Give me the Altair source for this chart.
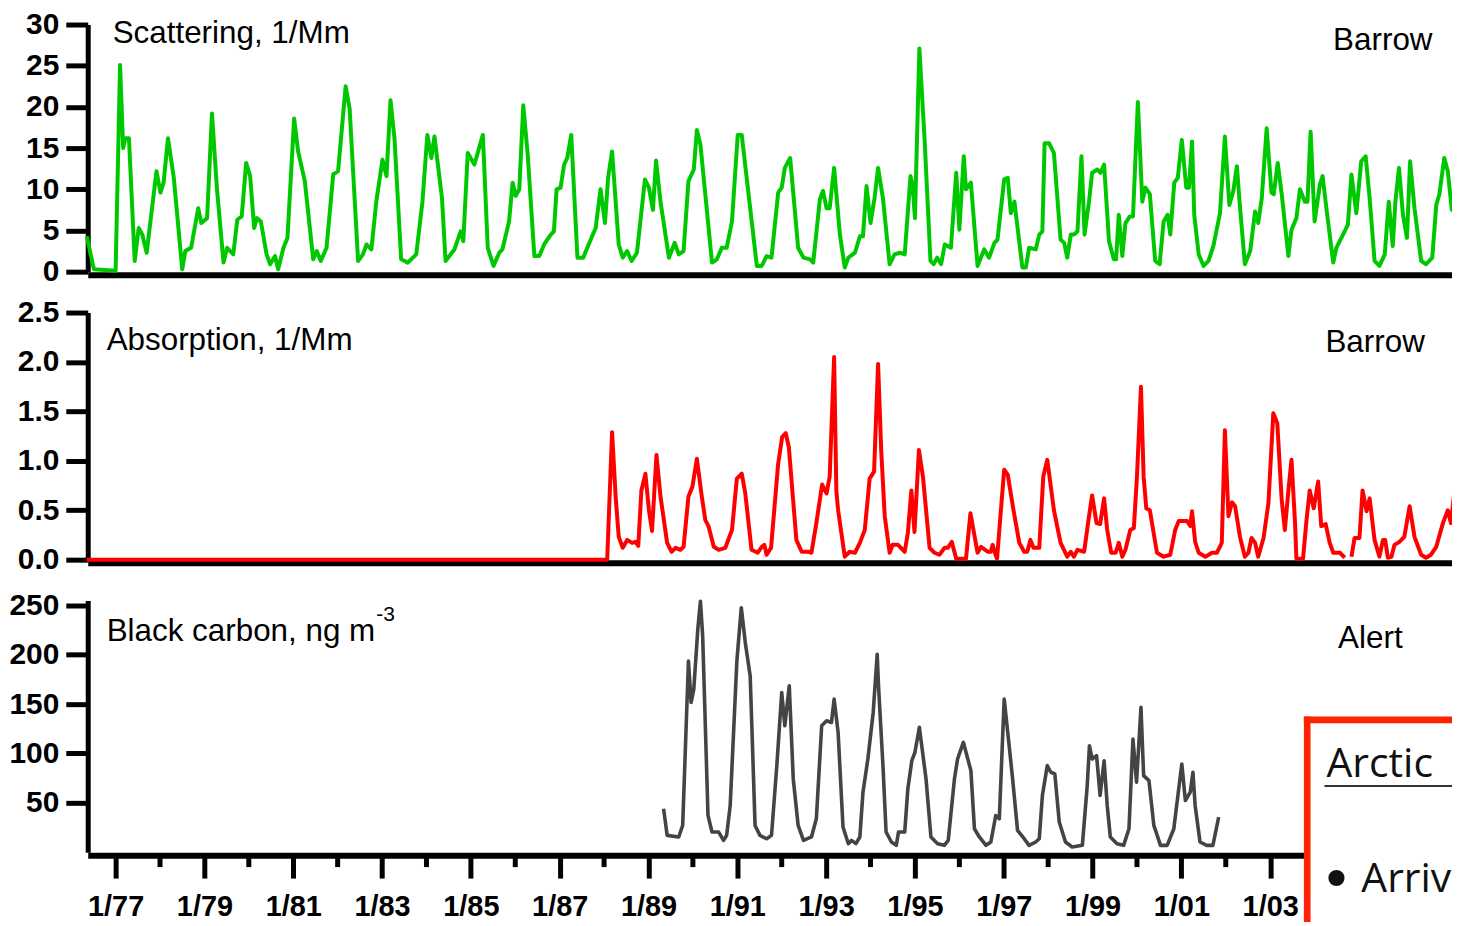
import altair as alt
import pandas as pd

# ---------------- data ----------------
scat_year = [
    1976.35, 1976.51,
    1977.00, 1977.10, 1977.17, 1977.22, 1977.30, 1977.43, 1977.52, 1977.60, 1977.70, 1977.92,
    1978.01, 1978.08, 1978.18, 1978.31, 1978.50, 1978.57, 1978.70, 1978.86, 1978.93,
    1979.06, 1979.17, 1979.28, 1979.43, 1979.51, 1979.65, 1979.74, 1979.84, 1979.94,
    1980.03, 1980.12, 1980.18, 1980.27, 1980.40, 1980.48, 1980.59, 1980.66, 1980.78, 1980.87,
    1981.02, 1981.11, 1981.26, 1981.45, 1981.53, 1981.62, 1981.75, 1981.90,
    1982.01, 1982.18, 1982.27, 1982.46, 1982.57, 1982.65, 1982.76, 1982.87,
    1983.01, 1983.10, 1983.19, 1983.28, 1983.43, 1983.58, 1983.77, 1983.91,
    1984.02, 1984.11, 1984.18, 1984.35, 1984.43, 1984.63, 1984.77, 1984.83, 1984.93,
    1985.08, 1985.27, 1985.38, 1985.51, 1985.64, 1985.71, 1985.86, 1985.94,
    1986.01, 1986.09, 1986.18, 1986.28, 1986.43, 1986.54, 1986.65, 1986.80, 1986.87, 1986.93,
    1987.02, 1987.10, 1987.17, 1987.26, 1987.40, 1987.53, 1987.70, 1987.81, 1987.92,
    1988.02, 1988.09, 1988.18, 1988.33, 1988.42, 1988.52, 1988.62, 1988.74, 1988.92,
    1989.01, 1989.10, 1989.17, 1989.27, 1989.46, 1989.59, 1989.68, 1989.79, 1989.90,
    1990.02, 1990.09, 1990.17, 1990.43, 1990.54, 1990.65, 1990.76, 1990.88,
    1991.01, 1991.10, 1991.29, 1991.44, 1991.55, 1991.66, 1991.77, 1991.92,
    1992.00, 1992.07, 1992.19, 1992.37, 1992.49, 1992.64, 1992.71, 1992.86, 1992.93,
    1993.01, 1993.08, 1993.18, 1993.31, 1993.42, 1993.50, 1993.65, 1993.76, 1993.83, 1993.91,
    1994.00, 1994.09, 1994.17, 1994.28, 1994.43, 1994.54, 1994.66, 1994.77, 1994.90, 1994.95,
    1995.00, 1995.10, 1995.22, 1995.35, 1995.42, 1995.50, 1995.59, 1995.67, 1995.81, 1995.93,
    1996.00, 1996.10, 1996.15, 1996.26, 1996.41, 1996.56, 1996.67, 1996.79, 1996.86,
    1997.01, 1997.09, 1997.16, 1997.24, 1997.42, 1997.50, 1997.57, 1997.72, 1997.80, 1997.87, 1997.92,
    1998.02, 1998.13, 1998.28, 1998.36, 1998.43, 1998.51, 1998.58, 1998.66, 1998.75, 1998.82, 1998.92, 1998.99,
    1999.11, 1999.18, 1999.26, 1999.37, 1999.48, 1999.53, 1999.59, 1999.67, 1999.74, 1999.84, 1999.91,
    2000.02, 2000.12, 2000.19, 2000.29, 2000.41, 2000.51, 2000.60, 2000.69, 2000.75, 2000.84, 2000.92,
    2001.01, 2001.11, 2001.17, 2001.24, 2001.29, 2001.39, 2001.50, 2001.61, 2001.72, 2001.87, 2001.98,
    2002.08, 2002.17, 2002.25, 2002.31, 2002.43, 2002.55, 2002.66, 2002.73, 2002.81, 2002.92,
    2003.03, 2003.08, 2003.17, 2003.26, 2003.41, 2003.48, 2003.59, 2003.67, 2003.78, 2003.84, 2003.91,
    2004.00, 2004.12, 2004.18, 2004.27, 2004.42, 2004.49, 2004.64, 2004.75, 2004.83, 2004.94,
    2005.05, 2005.15, 2005.24, 2005.35, 2005.46, 2005.58, 2005.67, 2005.76, 2005.82, 2005.90, 2005.99,
    2006.08, 2006.15, 2006.25, 2006.40, 2006.51, 2006.65, 2006.74, 2006.81, 2006.92,
    2007.00, 2007.09, 2007.16,
]
scat_value = [
    4.3, 0.3,
    0.1, 25.1, 15.0, 16.2, 16.2, 1.3, 5.3, 4.5, 2.3, 12.2,
    9.6, 10.8, 16.2, 11.4, 0.3, 2.5, 2.9, 7.7, 5.9,
    6.5, 19.2, 10.2, 1.1, 2.9, 2.1, 6.3, 6.7, 13.2,
    11.6, 5.3, 6.5, 6.1, 2.1, 0.9, 1.9, 0.3, 2.9, 4.1,
    18.6, 14.6, 11.0, 1.5, 2.5, 1.3, 2.9, 11.8,
    12.2, 22.5, 19.8, 1.3, 2.1, 3.3, 2.7, 8.5,
    13.6, 11.6, 20.8, 16.2, 1.5, 1.1, 2.1, 8.5,
    16.6, 13.8, 16.4, 8.9, 1.3, 2.7, 4.9, 3.7, 14.4,
    13.0, 16.6, 2.9, 0.7, 2.3, 2.7, 6.1, 10.8,
    9.2, 10.0, 20.2, 14.2, 1.9, 1.9, 3.3, 4.5, 4.9, 10.0,
    10.2, 13.0, 13.8, 16.6, 1.7, 1.7, 3.9, 5.3, 10.0,
    5.9, 11.4, 14.6, 3.3, 1.7, 2.5, 1.3, 2.3, 11.2,
    10.2, 7.5, 13.5, 8.5, 1.7, 3.5, 2.1, 2.5, 11.0,
    12.4, 17.2, 15.4, 1.1, 1.5, 2.9, 2.9, 6.1,
    16.6, 16.6, 7.7, 0.7, 0.7, 1.9, 1.7, 9.6,
    10.2, 12.6, 13.8, 2.9, 1.7, 1.5, 1.1, 8.8, 9.8,
    7.7, 7.7, 12.6, 4.5, 0.5, 1.7, 2.3, 4.3, 4.3, 10.4,
    5.9, 8.9, 12.6, 8.9, 0.9, 2.1, 2.3, 2.1, 11.6, 10.4,
    6.5, 27.1, 15.8, 1.3, 0.9, 1.7, 0.9, 3.3, 2.9, 12.0,
    5.1, 14.0, 10.0, 10.8, 0.7, 2.7, 1.7, 3.5, 3.9,
    11.2, 11.4, 7.1, 8.5, 0.5, 0.5, 2.9, 2.7, 4.5, 4.9, 15.6,
    15.6, 14.4, 3.9, 3.5, 1.7, 4.5, 4.5, 4.9, 14.0, 4.5, 8.5, 12.0,
    12.4, 12.0, 13.0, 3.7, 1.5, 1.5, 6.9, 1.9, 5.9, 6.7, 6.7,
    20.6, 8.5, 10.2, 9.4, 1.3, 0.9, 6.1, 6.9, 4.5, 10.8, 11.4,
    16.0, 10.2, 10.2, 15.8, 6.9, 2.1, 0.7, 1.3, 3.1, 7.1, 16.4,
    8.1, 9.8, 12.8, 8.5, 0.9, 2.5, 7.3, 5.9, 8.9, 17.4,
    9.6, 9.4, 13.2, 9.4, 1.9, 5.1, 6.5, 10.0, 8.5, 8.5, 17.0,
    6.1, 10.6, 11.6, 7.5, 1.1, 2.9, 4.5, 5.7, 11.8, 7.1,
    13.4, 14.0, 8.9, 1.3, 0.7, 2.1, 8.5, 3.1, 8.5, 12.6, 6.9,
    4.1, 13.4, 7.7, 1.3, 0.9, 1.7, 8.1, 9.4, 13.8,
    12.2, 7.5, 8.5,
]

abs_year = [
    1976.35, 1988.07,
    1988.18, 1988.26, 1988.33, 1988.42, 1988.52, 1988.63, 1988.71, 1988.77, 1988.84, 1988.93,
    1989.01, 1989.08, 1989.18, 1989.27, 1989.42, 1989.52, 1989.61, 1989.72, 1989.79, 1989.90, 1989.99,
    1990.09, 1990.20, 1990.28, 1990.35, 1990.47, 1990.58, 1990.73, 1990.88, 1990.99,
    1991.10, 1991.18, 1991.32, 1991.46, 1991.55, 1991.61, 1991.66, 1991.76, 1991.92,
    1992.01, 1992.09, 1992.16, 1992.33, 1992.45, 1992.60, 1992.67, 1992.78, 1992.91,
    1993.01, 1993.08, 1993.18, 1993.23, 1993.27, 1993.42, 1993.53, 1993.65, 1993.76, 1993.87, 1993.98,
    1994.08, 1994.17, 1994.24, 1994.32, 1994.43, 1994.50, 1994.62, 1994.77, 1994.84, 1994.92, 1994.99,
    1995.09, 1995.18, 1995.33, 1995.44, 1995.55, 1995.67, 1995.74, 1995.83, 1995.93,
    1996.15, 1996.25, 1996.41, 1996.49, 1996.64, 1996.71, 1996.75, 1996.80, 1996.85, 1996.90,
    1997.01, 1997.09, 1997.22, 1997.35, 1997.46, 1997.53, 1997.60, 1997.67, 1997.80, 1997.89, 1997.98,
    1998.13, 1998.28, 1998.43, 1998.51, 1998.58, 1998.66, 1998.81, 1998.92, 1998.99,
    1999.09, 1999.17, 1999.26, 1999.33, 1999.42, 1999.52, 1999.59, 1999.67, 1999.74, 1999.85, 1999.93,
    2000.00, 2000.09, 2000.15, 2000.21, 2000.29, 2000.45, 2000.60, 2000.75, 2000.86, 2000.94,
    2001.13, 2001.20, 2001.24, 2001.31, 2001.39, 2001.54, 2001.69, 2001.80, 2001.91, 2001.98,
    2002.06, 2002.14, 2002.21, 2002.32, 2002.43, 2002.51, 2002.58, 2002.66, 2002.73, 2002.85, 2002.96,
    2003.07, 2003.16, 2003.26, 2003.33, 2003.41, 2003.48, 2003.56, 2003.59, 2003.74, 2003.82, 2003.89, 2003.98,
    2004.08, 2004.15, 2004.25, 2004.34, 2004.42, 2004.57, 2004.68, 2004.83, 2004.90,
    2005.01, 2005.08, 2005.17, 2005.24, 2005.35, 2005.46, 2005.54, 2005.59, 2005.65, 2005.73, 2005.80, 2005.91,
    2006.02, 2006.14, 2006.25, 2006.40, 2006.51, 2006.62, 2006.74, 2006.89,
    2007.00, 2007.07, 2007.15,
]
abs_value = [
    0.0, 0.0,
    1.29, 0.64, 0.23, 0.12, 0.20, 0.17, 0.18, 0.14, 0.70, 0.87,
    0.50, 0.29, 1.06, 0.64, 0.17, 0.08, 0.12, 0.10, 0.13, 0.64, 0.74,
    1.02, 0.64, 0.40, 0.34, 0.13, 0.10, 0.12, 0.30, 0.82,
    0.87, 0.67, 0.10, 0.07, 0.13, 0.15, 0.05, 0.12, 0.97,
    1.24, 1.28, 1.14, 0.20, 0.08, 0.08, 0.07, 0.37, 0.76,
    0.67, 0.84, 2.05, 0.70, 0.50, 0.03, 0.08, 0.07, 0.17, 0.30, 0.82,
    0.89, 1.98, 1.11, 0.44, 0.07, 0.15, 0.15, 0.08, 0.27, 0.70, 0.28,
    1.11, 0.84, 0.12, 0.07, 0.05, 0.12, 0.12, 0.18, 0.01,
    0.01, 0.47, 0.07, 0.13, 0.08, 0.08, 0.15, 0.07, 0.01, 0.30,
    0.91, 0.86, 0.50, 0.17, 0.08, 0.08, 0.20, 0.12, 0.12, 0.84, 1.01,
    0.50, 0.17, 0.03, 0.08, 0.03, 0.10, 0.08, 0.44, 0.65,
    0.37, 0.36, 0.62, 0.30, 0.07, 0.07, 0.17, 0.03, 0.10, 0.30, 0.32,
    0.84, 1.75, 0.84, 0.52, 0.50, 0.07, 0.03, 0.05, 0.30, 0.39,
    0.39, 0.34, 0.49, 0.18, 0.07, 0.03, 0.07, 0.07, 0.17, 1.31,
    0.44, 0.58, 0.54, 0.23, 0.03, 0.07, 0.22, 0.17, 0.03, 0.22, 0.57,
    1.48, 1.38, 0.60, 0.30, 0.70, 1.01, 0.37, 0.01, 0.01, 0.41, 0.70, 0.52,
    0.79, 0.34, 0.36, 0.17, 0.07, 0.07, 0.02, 0.03, 0.22,
    0.22, 0.70, 0.49, 0.62, 0.20, 0.03, 0.20, 0.20, 0.02, 0.03, 0.15, 0.18,
    0.23, 0.54, 0.23, 0.05, 0.02, 0.05, 0.13, 0.37,
    0.50, 0.37, 0.70,
]
abs_gap_year = 2004.75  # the absorption record breaks here

bc_year = [
    1989.34, 1989.42, 1989.68, 1989.77, 1989.90, 1989.96,
    1990.02, 1990.11, 1990.17, 1990.22, 1990.34, 1990.43, 1990.58, 1990.69, 1990.76, 1990.84, 1990.99,
    1991.09, 1991.18, 1991.29, 1991.40, 1991.51, 1991.66, 1991.77, 1991.89,
    1992.00, 1992.07, 1992.17, 1992.26, 1992.37, 1992.49, 1992.67, 1992.78, 1992.90,
    1993.01, 1993.12, 1993.18, 1993.27, 1993.38, 1993.50, 1993.57, 1993.67, 1993.76, 1993.83, 1993.94,
    1994.06, 1994.15, 1994.18, 1994.28, 1994.35, 1994.47, 1994.58, 1994.63, 1994.77, 1994.84, 1994.93,
    1995.00, 1995.10, 1995.25, 1995.36, 1995.51, 1995.66, 1995.75, 1995.89, 1995.96,
    1996.09, 1996.26, 1996.34, 1996.45, 1996.60, 1996.71, 1996.82, 1996.90,
    1997.01, 1997.09, 1997.20, 1997.31, 1997.46, 1997.57, 1997.72, 1997.80, 1997.87, 1997.98,
    1998.06, 1998.15, 1998.25, 1998.39, 1998.54, 1998.77, 1998.88, 1998.93, 1998.99,
    1999.09, 1999.17, 1999.26, 1999.33, 1999.40, 1999.55, 1999.70, 1999.82, 1999.91, 1999.99,
    2000.04, 2000.09, 2000.15, 2000.27, 2000.38, 2000.53, 2000.68, 2000.83, 2000.94,
    2001.01, 2001.09, 2001.20, 2001.26, 2001.31, 2001.42, 2001.57, 2001.71, 2001.84,
]
bc_value = [
    43.9, 17.0, 15.4, 27.1, 193.7, 151.7,
    165.2, 225.8, 254.3, 219.0, 37.2, 20.4, 20.4, 11.9, 17.0, 47.3, 193.7,
    247.7, 212.3, 178.6, 27.1, 17.0, 13.6, 17.0, 87.7,
    161.8, 128.1, 168.5, 74.2, 27.1, 11.9, 15.4, 33.8, 128.1,
    133.1, 131.4, 155.1, 121.4, 25.5, 8.6, 11.9, 8.6, 15.4, 60.8, 94.4,
    141.6, 200.5, 168.5, 87.7, 20.4, 10.3, 6.9, 20.4, 20.4, 64.1, 92.7,
    101.2, 126.5, 74.2, 15.4, 8.6, 6.9, 11.9, 74.2, 94.4,
    111.3, 82.7, 23.7, 15.4, 6.9, 10.3, 37.2, 33.8,
    155.1, 121.4, 74.2, 22.0, 13.6, 6.9, 10.3, 13.6, 57.4, 87.7,
    81.0, 79.3, 30.5, 10.3, 5.2, 6.9, 67.5, 107.9, 94.4,
    97.8, 57.4, 92.7, 47.3, 15.4, 8.6, 6.9, 23.7, 114.6, 70.9,
    107.9, 146.7, 77.6, 72.5, 27.1, 6.9, 6.9, 23.7, 64.1,
    89.4, 52.3, 60.8, 81.0, 47.3, 10.3, 6.9, 6.9, 35.6,
]

scat_ticks = [0, 5, 10, 15, 20, 25, 30]
abs_ticks = [0.0, 0.5, 1.0, 1.5, 2.0, 2.5]
bc_ticks = [50, 100, 150, 200, 250]
major_years = list(range(1977, 2004, 2))
minor_years = list(range(1978, 2005, 2))

panel_titles = ["Scattering, 1/Mm", "Absorption, 1/Mm", "Black carbon, ng m"]
unit_superscript = "-3"
stations = ["Barrow", "Barrow", "Alert"]
box_heading = "Arctic"
box_bullet = "\u2022"
box_line = "Arriv"

assert len(scat_year) == len(scat_value)
assert len(abs_year) == len(abs_value)
assert len(bc_year) == len(bc_value)

scat_df = pd.DataFrame({"year": scat_year, "value": scat_value})
abs_df = pd.DataFrame({"year": abs_year, "value": abs_value,
                       "seg": [0 if y < abs_gap_year else 1 for y in abs_year]})
bc_df = pd.DataFrame({"year": bc_year, "value": bc_value})
minor_df = pd.DataFrame({"year": minor_years})

# ---------------- styling ----------------
FONT = "Liberation Sans"
BOX_FONT = "Open Sans"
GREEN = "#00C800"
RED = "#FF0000"
GREY = "#444444"
BOX_RED = "#FF2200"

W = 1373
H = 248
H3 = 252.5
XS = alt.Scale(domain=[1976.372, 2007.184], nice=False, zero=False)


def y_axis(values, fmt):
    return alt.Axis(values=values, format=fmt, title=None, grid=False,
                    domainColor="black", domainWidth=5,
                    tickColor="black", tickWidth=5, tickSize=22,
                    labelFont=FONT, labelFontSize=30, labelFontWeight="bold",
                    labelColor="black", labelPadding=7,
                    labelFlush=False, labelOverlap=False)


x_axis_plain = alt.Axis(title=None, grid=False, ticks=False, labels=False,
                        domainColor="black", domainWidth=6, offset=3)

x_axis_years = alt.Axis(values=major_years, title=None, grid=False,
                        domainColor="black", domainWidth=6, offset=3,
                        tickColor="black", tickWidth=5, tickSize=23,
                        labelExpr="'1/' + substring(toString(datum.value), 2)",
                        labelFont=FONT, labelFontSize=29, labelFontWeight="bold",
                        labelColor="black", labelPadding=15,
                        labelFlush=False, labelOverlap=False, zindex=0)


def text_layer(txt, x, y, size, font=FONT, align="left", color="black", limit=None):
    kw = dict(align=align, baseline="alphabetic", font=font, fontSize=size, color=color)
    if limit is not None:
        kw.update(limit=limit, ellipsis="")
    return alt.Chart(pd.DataFrame({"t": [txt]})).mark_text(**kw).encode(
        text="t:N", x=alt.value(x), y=alt.value(y))


one = pd.DataFrame({"k": [0]})

# ---------------- panel 1: scattering ----------------
p1 = alt.layer(
    alt.Chart(scat_df).mark_line(color=GREEN, strokeWidth=4, strokeJoin="round").encode(
        x=alt.X("year:Q", scale=XS, axis=x_axis_plain),
        y=alt.Y("value:Q", scale=alt.Scale(domain=[0, 30], nice=False, zero=False),
                axis=y_axis(scat_ticks, "d"))),
    text_layer(panel_titles[0], 25, 18.7, 31.5),
    text_layer(stations[0], 1249.7, 25.3, 31.5),
).properties(width=W, height=H)

# ---------------- panel 2: absorption ----------------
p2 = alt.layer(
    alt.Chart(abs_df).mark_line(color=RED, strokeWidth=4, strokeJoin="round").encode(
        x=alt.X("year:Q", scale=XS, axis=x_axis_plain),
        y=alt.Y("value:Q", scale=alt.Scale(domain=[0, 2.5], nice=False, zero=False),
                axis=y_axis(abs_ticks, ".1f")),
        detail="seg:N"),
    text_layer(panel_titles[1], 19, 37.3, 31.5),
    text_layer(stations[1], 1242, 39.7, 31.5),
).properties(width=W, height=H)

# ---------------- panel 3: black carbon ----------------
p3 = alt.layer(
    alt.Chart(bc_df).mark_line(color=GREY, strokeWidth=3.6, strokeJoin="round").encode(
        x=alt.X("year:Q", scale=XS, axis=x_axis_years),
        y=alt.Y("value:Q", scale=alt.Scale(domain=[0, 255], nice=False, zero=False),
                axis=y_axis(bc_ticks, "d"))),
    alt.Chart(minor_df).mark_rule(color="black", strokeWidth=5).encode(
        x=alt.X("year:Q", scale=XS, axis=x_axis_years),
        y=alt.value(H3 + 3), y2=alt.value(H3 + 15)),
    text_layer(panel_titles[2], 19, 40.7, 31.5),
    text_layer(unit_superscript, 289.5, 20.7, 21),
    text_layer(stations[2], 1254.7, 47.3, 31.5),
    # slide box overlapping the lower right corner
    alt.Chart(one).mark_rect(color="white", opacity=1).encode(
        x=alt.value(1223.7), x2=alt.value(W), y=alt.value(119.7), y2=alt.value(325)),
    alt.Chart(one).mark_rule(color=BOX_RED, strokeWidth=6.7).encode(
        x=alt.value(1223.7), y=alt.value(116.35), y2=alt.value(325)),
    alt.Chart(one).mark_rule(color=BOX_RED, strokeWidth=6.7).encode(
        x=alt.value(1220.35), x2=alt.value(W), y=alt.value(119.7)),
    alt.Chart(one).mark_rule(color="#333333", strokeWidth=2).encode(
        x=alt.value(1241), x2=alt.value(W), y=alt.value(186)),
    text_layer(box_heading, 1243, 177.3, 41, font=BOX_FONT, color="#111111", limit=W - 1243),
    text_layer(box_bullet, 1253, 300, 56, font="DejaVu Sans", align="center", color="#111111"),
    text_layer(box_line, 1278, 292.3, 41, font=BOX_FONT, color="#111111", limit=W - 1278),
).properties(width=W, height=H3)

chart = (
    alt.vconcat(p1, p2, p3, spacing=41, bounds="flush")
    .properties(padding={"left": 0, "top": 0, "right": -8, "bottom": -8},
                background="white")
    .configure_view(strokeWidth=0)
)

chart.save("out.html", embed_options={"renderer": "svg", "actions": False})
